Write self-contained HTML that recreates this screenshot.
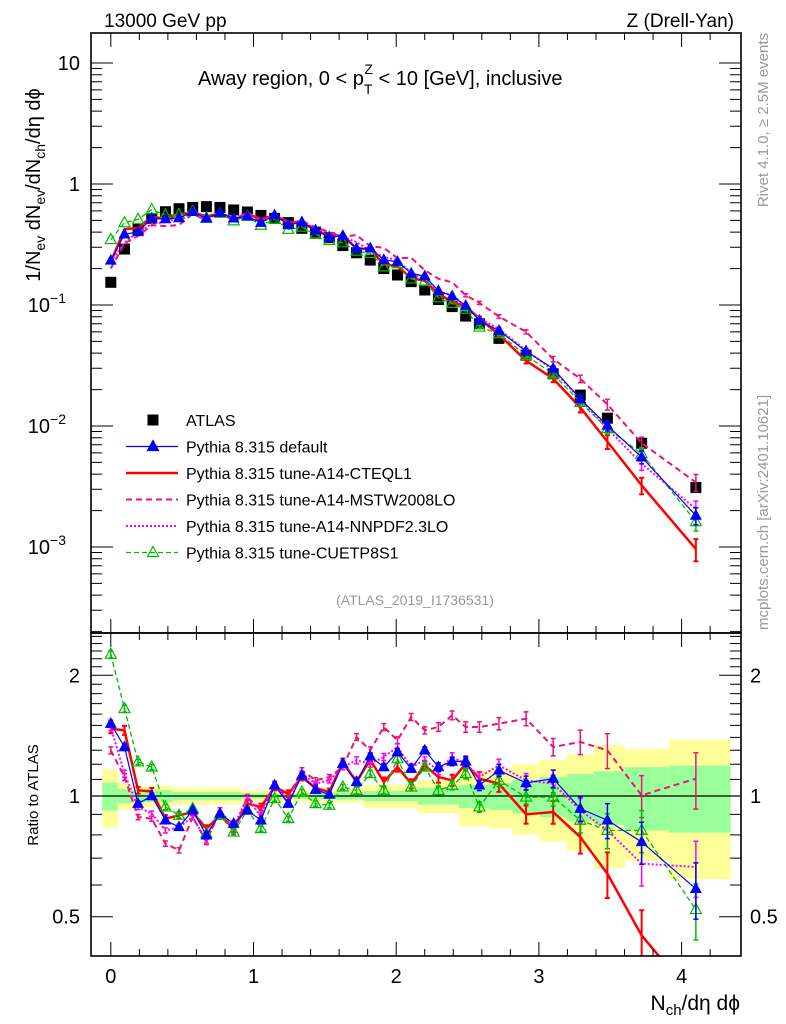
<!DOCTYPE html>
<html><head><meta charset="utf-8"><style>
body{margin:0;background:#fff}
svg{display:block;font-family:"Liberation Sans",sans-serif}
</style></head><body>
<svg id="chart" width="786" height="1024" viewBox="0 0 786 1024" xmlns="http://www.w3.org/2000/svg">
<defs>
<clipPath id="cm"><rect x="91" y="33" width="650" height="600"/></clipPath>
<clipPath id="cr"><rect x="91" y="633" width="650" height="323"/></clipPath>
</defs>
<g id="bands" clip-path="url(#cr)"></g>
<g id="main" clip-path="url(#cm)"></g>
<g id="ratio" clip-path="url(#cr)"></g>
<g id="axes"></g>
<text x="104" y="27" font-size="19">13000 GeV pp</text>
<text x="734" y="27" font-size="19" text-anchor="end">Z (Drell-Yan)</text>
<text x="198" y="85" font-size="20">Away region, 0 &lt; p<tspan font-size="14" dy="9">T</tspan><tspan font-size="14" dx="-8" dy="-20">Z</tspan><tspan dy="11"> &lt; 10 [GeV], inclusive</tspan></text>
<text x="415" y="605" font-size="14" fill="#999" text-anchor="middle">(ATLAS_2019_I1736531)</text>
<text transform="translate(40,185) rotate(-90)" font-size="20" text-anchor="middle">1/N<tspan font-size="14" dy="5">ev</tspan><tspan dy="-5"> dN</tspan><tspan font-size="14" dy="5">ev</tspan><tspan dy="-5">/dN</tspan><tspan font-size="14" dy="5">ch</tspan><tspan dy="-5">/dη dϕ</tspan></text>
<text transform="translate(38,795) rotate(-90)" font-size="15" text-anchor="middle">Ratio to ATLAS</text>
<text x="740" y="1010" font-size="21" text-anchor="end">N<tspan font-size="15" dy="5">ch</tspan><tspan dy="-5">/dη dϕ</tspan></text>
<text transform="translate(768,33) rotate(-90)" font-size="15" fill="#999" text-anchor="end">Rivet 4.1.0, ≥ 2.5M events</text>
<text transform="translate(768,630) rotate(-90)" font-size="15" fill="#999">mcplots.cern.ch [arXiv:2401.10621]</text>
<g id="legend"></g>
</svg>
<script>
// ---- data ----
const xVals=[0,0.096,0.191,0.287,0.383,0.478,0.574,0.67,0.765,0.861,0.957,1.052,1.148,1.244,1.339,1.435,1.531,1.626,1.722,1.818,1.913,2.009,2.105,2.2,2.296,2.392,2.487,2.583,2.72,2.91,3.1,3.29,3.48,3.72,4.1];
const atlas=[0.154,0.29,0.42,0.52,0.59,0.625,0.64,0.65,0.64,0.61,0.587,0.55,0.52,0.48,0.43,0.40,0.36,0.31,0.27,0.235,0.20,0.177,0.156,0.133,0.111,0.097,0.081,0.070,0.053,0.0385,0.027,0.018,0.0116,0.0072,0.0031];
const errTot=[0.165,0.077,0.06,0.06,0.06,0.048,0.048,0.048,0.048,0.048,0.03,0.03,0.03,0.03,0.03,0.038,0.038,0.038,0.038,0.067,0.067,0.067,0.067,0.095,0.095,0.095,0.16,0.16,0.17,0.2,0.23,0.27,0.34,0.31,0.38];
const errStat=[0.08,0.042,0.035,0.035,0.035,0.023,0.023,0.023,0.023,0.023,0.015,0.015,0.015,0.015,0.015,0.02,0.02,0.02,0.02,0.03,0.03,0.03,0.03,0.048,0.048,0.048,0.067,0.067,0.077,0.096,0.115,0.134,0.153,0.18,0.19];
const zy2r=a=>a.map(z=>+Math.pow(10,(497-z)/1203).toFixed(3));
const rDefault=zy2r([280,350,520,497,570,590,540,615,550,580,540,570,465,520,435,478,493,400,455,378,410,365,415,360,410,393,393,465,420,458,445,535,570,635,775]);
const rCTEQ=zy2r([295,300,480,483,565,555,545,595,555,595,520,530,470,490,440,473,485,395,455,388,455,410,460,405,440,450,400,445,460,552,545,620,730,915,1109]);
const rMSTW=zy2r([360,440,560,565,640,660,560,635,540,600,500,540,470,500,420,450,440,410,320,360,290,330,260,300,290,255,290,290,280,265,350,335,360,495,445]);
const rNNPDF=zy2r([290,430,530,550,600,590,560,630,540,590,500,560,460,520,430,460,450,410,390,400,380,350,410,390,420,380,400,440,405,450,460,540,600,700,710]);
const rCUET=zy2r([72,235,395,410,530,555,535,610,555,605,540,595,505,565,485,520,525,470,480,430,480,385,470,410,480,465,430,530,450,500,500,570,600,600,838]);
const mcErr=[0.02,0.02,0.015,0.015,0.015,0.015,0.015,0.015,0.015,0.015,0.015,0.015,0.015,0.015,0.015,0.015,0.015,0.015,0.02,0.02,0.02,0.02,0.02,0.02,0.025,0.025,0.03,0.03,0.035,0.04,0.05,0.07,0.1,0.12,0.16];
const xTicks=[0,1,2,3,4];
// ---- scales ----
const X=u=>110.8+142.7*u;
const YM=v=>184-121*Math.log10(v);
const YR=r=>796-401*Math.log10(r);
const NS="http://www.w3.org/2000/svg";
function mk(tag,attrs,parent){const e=document.createElementNS(NS,tag);for(const k in attrs)e.setAttribute(k,attrs[k]);parent.appendChild(e);return e;}
const gB=document.getElementById('bands'),gM=document.getElementById('main'),gR=document.getElementById('ratio'),gA=document.getElementById('axes'),gL=document.getElementById('legend');
const edges=[-0.06];for(let i=0;i<xVals.length-1;i++)edges.push((xVals[i]+xVals[i+1])/2);edges.push(4.34);
for(let i=0;i<xVals.length;i++){
 const w=X(edges[i+1])-X(edges[i]);
 let r=mk('rect',{x:X(edges[i]),y:YR(1+errTot[i]),width:w+0.5,height:YR(Math.max(1-errTot[i],0.05))-YR(1+errTot[i]),fill:'#ffff99'},gB);
 
 
 r=mk('rect',{x:X(edges[i]),y:YR(1+errStat[i]),width:w+0.5,height:YR(1-errStat[i])-YR(1+errStat[i]),fill:'#99ff99'},gB);
 
 
}
mk('line',{x1:91,x2:741,y1:YR(1),y2:YR(1),stroke:'#000','stroke-width':1.2},gR);
const series=[
 {name:'pythia-cteql1',r:rCTEQ,c:'#ff0000',w:2.5,d:'',m:'none',lab:'Pythia 8.315 tune-A14-CTEQL1'},
 {name:'pythia-mstw2008lo',r:rMSTW,c:'#ee1177',w:2,d:'6,4',m:'none',lab:'Pythia 8.315 tune-A14-MSTW2008LO'},
 {name:'pythia-nnpdf23lo',r:rNNPDF,c:'#ff00ff',w:2,d:'2,2',m:'none',lab:'Pythia 8.315 tune-A14-NNPDF2.3LO'},
 {name:'pythia-cuetp8s1',r:rCUET,c:'#00bb00',w:1.3,d:'5,3',m:'open',lab:'Pythia 8.315 tune-CUETP8S1'},
 {name:'pythia-default',r:rDefault,c:'#0000ff',w:1.2,d:'',m:'fill',lab:'Pythia 8.315 default'}
];
function tri(g,x,y,c,filled,s){return mk('path',{d:`M${x},${y-s*0.6}L${x+s*0.55},${y+s*0.4}L${x-s*0.55},${y+s*0.4}Z`,fill:filled?c:'none',stroke:c,'stroke-width':1.2},g);}
function drawSeries(g,vals,Y,s,tag){
 const pts=vals.map((v,i)=>X(xVals[i])+','+Y(v)).join(' ');
 const pl=mk('polyline',{points:pts,fill:'none',stroke:s.c,'stroke-width':s.w,'stroke-dasharray':s.d},g);
 
 
 vals.forEach((v,i)=>{
  const e=s.name==='pythia-cteql1'?mcErr[i]*1.3:mcErr[i];
  const x=X(xVals[i]),y1=Y(v*(1+e)),y2=Y(v*(1-e));
  if(y2-y1>3){const eb=mk('path',{d:`M${x},${y1}V${y2}M${x-2.5},${y1}H${x+2.5}M${x-2.5},${y2}H${x+2.5}`,stroke:s.c,'stroke-width':s.w>2?2:1.5,fill:'none'},g);
   
   }
  if(s.m!=='none'){const t=tri(g,x,Y(v),s.c,s.m==='fill',s.m==='fill'?9:10);
   
   }
 });
}
atlas.forEach((v,i)=>{const r=mk('rect',{x:X(xVals[i])-5.5,y:YM(v)-5.5,width:11,height:11,fill:'#000'},gM);
 
 });
series.forEach(s=>{drawSeries(gM,s.r.map((r,i)=>r*atlas[i]),YM,s,'main');drawSeries(gR,s.r,YR,s,'ratio');});
[[33,633],[633,956]].forEach(([t,b])=>{const f=mk('rect',{x:91,y:t,width:650,height:b-t,fill:'none',stroke:'#000','stroke-width':1.6},gA);
 
 
 for(let u=-0.2;u<=4.4;u+=0.2){const x=X(u);if(x<92||x>740)continue;const maj=Math.abs(u-Math.round(u))<0.01;const L=maj?14:7;
  mk('path',{d:`M${x},${b}v${-L}M${x},${t}v${L}`,stroke:'#000','stroke-width':1},gA);}
});
xTicks.forEach(u=>{const t=mk('text',{x:X(u),y:983,'font-size':20,'text-anchor':'middle'},gA);t.textContent=u;
 
 });
for(let d=-4;d<=1;d++)for(let k=1;k<10;k++){const v=k*Math.pow(10,d);const y=YM(v);if(y<34||y>632)continue;const L=k===1?22:11;
 mk('path',{d:`M91,${y}h${L}M741,${y}h${-L}`,stroke:'#000','stroke-width':1},gA);}
[[10,'10'],[1,'1']].forEach(([v,s])=>{const t=mk('text',{x:80,y:YM(v)+7,'font-size':20,'text-anchor':'end'},gA);t.textContent=s;
 
 });
[-1,-2,-3].forEach(d=>{const t=mk('text',{x:66,y:YM(Math.pow(10,d))+7,'font-size':20,'text-anchor':'end'},gA);
 
 
 t.textContent='10';const ts=mk('tspan',{'font-size':14,dy:-9},t);ts.textContent='−'+(-d);});
for(let k=3;k<=25;k++){const r=k/10;const y=YR(r);if(y<634||y>955)continue;const maj=(k===5||k===10||k===20);const L=maj?22:11;
 mk('path',{d:`M91,${y}h${L}M741,${y}h${-L}`,stroke:'#000','stroke-width':1},gA);}
[[2,'2'],[1,'1'],[0.5,'0.5']].forEach(([r,s])=>{[[80,'end'],[750,'start']].forEach(([x,a])=>{const t=mk('text',{x:x,y:YR(r)+7,'font-size':20,'text-anchor':a},gA);t.textContent=s;
 
 });});
const leg=[{lab:'ATLAS',m:'sq'},series[4],series[0],series[1],series[2],series[3]];
leg.forEach((s,i)=>{const y=420+i*26.5;const g=mk('g',{},gL);
 
 
 if(s.m==='sq'){mk('rect',{x:147.5,y:y-5.5,width:11,height:11,fill:'#000'},g);}
 else{mk('line',{x1:126,x2:178,y1:y,y2:y,stroke:s.c,'stroke-width':s.w,'stroke-dasharray':s.d},g);
  if(s.m!=='none')tri(g,153,y,s.c,s.m==='fill',10);}
 const t=mk('text',{x:186,y:y+6,'font-size':16},g);t.textContent=s.lab;});
</script>
</body></html>
